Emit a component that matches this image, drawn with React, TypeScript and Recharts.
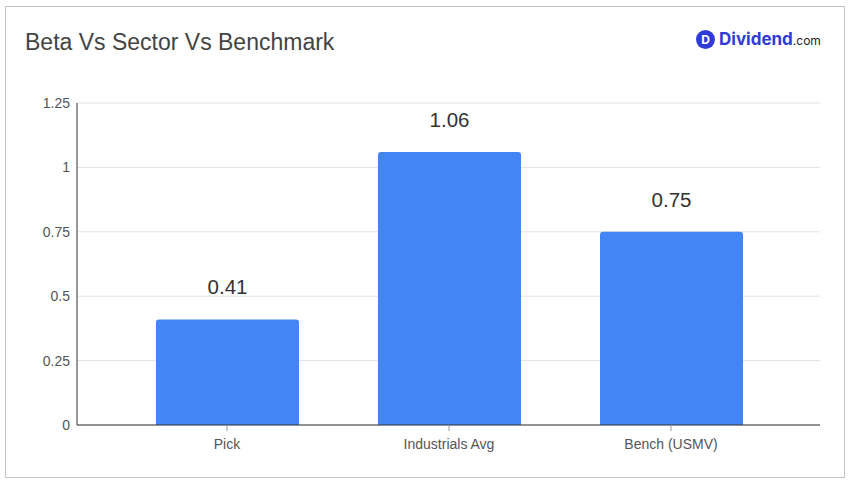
import { Bar, BarChart, CartesianGrid, LabelList, XAxis, YAxis } from "recharts";

const categories = ["Pick", "Industrials Avg", "Bench (USMV)"];
const betaValues = [0.41, 1.06, 0.75];
const yTicks = [0, 0.25, 0.5, 0.75, 1, 1.25];

const data = categories.map((name, i) => ({ name, beta: betaValues[i] }));

const font = "Arial, 'Liberation Sans', sans-serif";

export default function App() {
  return (
    <div style={{ position: "absolute", left: 0, top: 0, width: 851, height: 483, background: "#fff", fontFamily: font }}>
      <div style={{ position: "absolute", left: 5, top: 6, width: 838, height: 470, border: "1px solid #c4c4c4" }} />
      <div style={{ position: "absolute", left: 25, top: 28, fontSize: 23, color: "#444", lineHeight: "28px" }}>Beta Vs Sector Vs Benchmark</div>
      <div style={{ position: "absolute", left: 696, top: 29, display: "flex", alignItems: "center" }}>
        <div style={{ width: 19, height: 19, borderRadius: "50%", background: "#2f3bd8", color: "#fff", fontSize: 12, fontWeight: 700, display: "flex", alignItems: "center", justifyContent: "center", fontFamily: "Inter, sans-serif" }}>D</div>
        <span style={{ marginLeft: 4, fontSize: 17, fontWeight: 700, color: "#2f3bd8", fontFamily: "Inter, sans-serif" }}>Dividend</span>
        <span style={{ fontSize: 12, color: "#222", fontFamily: "Inter, sans-serif", marginTop: 3 }}>.com</span>
      </div>
      <div style={{ position: "absolute", left: 0, top: 0 }}>
        <BarChart width={851} height={483} data={data} margin={{ top: 103, right: 31, bottom: 0, left: 0 }}>
          <CartesianGrid vertical={false} stroke="#e3e3e3" />
          <XAxis
            dataKey="name"
            height={58}
            padding={{ left: 39, right: 38 }}
            axisLine={{ stroke: "#333" }}
            tickLine={{ stroke: "#999" }}
            tickSize={6}
            tickMargin={8}
            tick={{ fill: "#555", fontSize: 14, fontFamily: font }}
          />
          <YAxis
            width={77}
            domain={[0, 1.25]}
            ticks={yTicks}
            axisLine={{ stroke: "#333" }}
            tickLine={false}
            tickSize={5}
            tickMargin={2}
            tick={{ fill: "#555", fontSize: 14, fontFamily: font }}
          />
          <Bar dataKey="beta" fill="#4285f4" barSize={143} radius={[3, 3, 0, 0]} isAnimationActive={false}>
            <LabelList dataKey="beta" position="top" offset={25} fill="#333" fontSize={20.5} fontFamily={font} />
          </Bar>
        </BarChart>
      </div>
    </div>
  );
}
